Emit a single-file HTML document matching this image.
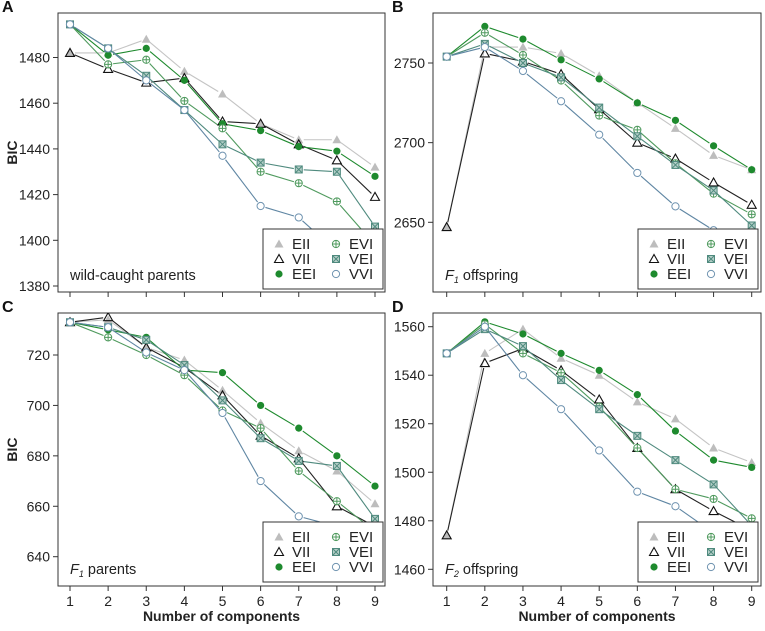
<!DOCTYPE html>
<html><head><meta charset="utf-8"><style>
body{margin:0;background:#fff;}
svg{font-family:"Liberation Sans",Arial,sans-serif;}
</style></head><body>
<svg id="chart" width="765" height="626" viewBox="0 0 765 626" xmlns="http://www.w3.org/2000/svg"></svg>
<script>
const components = [1,2,3,4,5,6,7,8,9];
const models = ["EII","VII","EEI","EVI","VEI","VVI"];
const aEII = [1482,1482,1488,1474,1464,1451,1444,1444,1432];
const aVII = [1482,1475,1469,1471,1452,1451,1442,1435,1419];
const aEEI = [1494.5,1481,1484,1470,1451,1448,1441,1439,1428];
const aEVI = [1494.5,1477,1479,1461,1449,1430,1425,1417,1398];
const aVEI = [1494.5,1484,1472,1457,1442,1434,1431,1430,1406];
const aVVI = [1494.5,1484,1470,1457,1437,1415,1410,1395,1385];
const bEII = [2647,2760,2760,2756,2742,2725,2709,2692,2683];
const bVII = [2647,2756,2751,2743,2721,2700,2690,2675,2661];
const bEEI = [2754,2773,2765,2752,2740,2725,2714,2698,2683];
const bEVI = [2754,2769,2755,2739,2717,2708,2687,2668,2655];
const bVEI = [2754,2762,2750,2741,2722,2704,2686,2670,2648];
const bVVI = [2754,2760,2745,2726,2705,2681,2660,2645,2630];
const cEII = [733,734,723,718,706,693,682,674,661];
const cVII = [733,735,723,715,704,688,679,660,652];
const cEEI = [733,730,727,714,713,700,691,680,668];
const cEVI = [733,727,720,712,698,691,674,662,650];
const cVEI = [733,731,726,716,702,687,678,676,655];
const cVVI = [733,731,721,714,697,670,656,652,645];
const dEII = [1474,1549,1559,1547,1540,1529,1522,1510,1504];
const dVII = [1474,1545,1551,1542,1530,1510,1493,1484,1476];
const dEEI = [1549,1562,1557,1549,1542,1532,1517,1505,1502];
const dEVI = [1549,1561,1549,1541,1527,1510,1493,1489,1481];
const dVEI = [1549,1559,1552,1538,1526,1515,1505,1495,1478];
const dVVI = [1549,1560,1540,1526,1509,1492,1486,1475,1465];
const aTicks = [1380,1400,1420,1440,1460,1480];
const bTicks = [2650,2700,2750];
const cTicks = [640,660,680,700,720];
const dTicks = [1460,1480,1500,1520,1540,1560];

const NS="http://www.w3.org/2000/svg";
const svg=document.getElementById('chart');
function mk(tag,attrs,parent){const e=document.createElementNS(NS,tag);for(const k in attrs)e.setAttribute(k,attrs[k]);(parent||svg).appendChild(e);return e;}
const style={
 EII:{line:"#c4c4c4"},VII:{line:"#222"},EEI:{line:"#1e8a2e"},
 EVI:{line:"#4f9a5e"},VEI:{line:"#4f8a7e"},VVI:{line:"#5f86a3"}};
function marker(m,x,y,g){
 let e;
 if(m==="EII"){e=mk('polygon',{points:`${x},${y-4.5} ${x-4.5},${y+3.5} ${x+4.5},${y+3.5}`,fill:"#bdbdbd"},g);}
 else if(m==="VII"){e=mk('polygon',{points:`${x},${y-4.5} ${x-4.5},${y+3.5} ${x+4.5},${y+3.5}`,fill:"none",stroke:"#111","stroke-width":1.1},g);}
 else if(m==="EEI"){e=mk('circle',{cx:x,cy:y,r:3.6,fill:"#1e8a2e"},g);}
 else if(m==="EVI"){e=mk('g',{},g);mk('circle',{cx:x,cy:y,r:3.6,fill:"#fff",stroke:"#4f9a5e","stroke-width":1},e);mk('path',{d:`M${x-3.6} ${y}H${x+3.6}M${x} ${y-3.6}V${y+3.6}`,stroke:"#4f9a5e","stroke-width":1},e);}
 else if(m==="VEI"){e=mk('g',{},g);mk('rect',{x:x-3.5,y:y-3.5,width:7,height:7,fill:"#b5cfc8",stroke:"#4f8a7e","stroke-width":1},e);mk('path',{d:`M${x-3.5} ${y-3.5}L${x+3.5} ${y+3.5}M${x+3.5} ${y-3.5}L${x-3.5} ${y+3.5}`,stroke:"#4f8a7e","stroke-width":1},e);}
 else {e=mk('circle',{cx:x,cy:y,r:3.6,fill:"#fff",stroke:"#6f93b0","stroke-width":1},g);}
 
 
}
function panel(p){
 const g=mk('g',{});
 
 
 const xs=v=>p.x1+(v-1)*(p.x9-p.x1)/8;
 const ys=v=>p.ya+(v-p.va)*(p.yb-p.ya)/(p.vb-p.va);
 const clipId='clip'+p.letter;
 const cp=mk('clipPath',{id:clipId},g);mk('rect',{x:p.bx,y:p.by,width:p.bw,height:p.bh},cp);
 const frame=mk('rect',{x:p.bx,y:p.by,width:p.bw,height:p.bh,fill:"none",stroke:"#333","stroke-width":1},g);
 
 const lt=mk('text',{x:p.letx,y:p.by-1,"font-size":16,"font-weight":"bold",fill:"#111"},g);lt.textContent=p.letter;
 
 const ax=mk('g',{},g);
 p.ticks.forEach(t=>{const y=ys(t);mk('line',{x1:p.bx-5,x2:p.bx,y1:y,y2:y,stroke:"#333"},ax);
  const tx=mk('text',{x:p.bx-8,y:y+5,"font-size":14,"text-anchor":"end",fill:"#222"},ax);tx.textContent=t;
  });
 const xa=mk('g',{},g);
 components.forEach(c=>{const x=xs(c);mk('line',{x1:x,x2:x,y1:p.by+p.bh,y2:p.by+p.bh+5,stroke:"#333"},xa);
  if(p.xlabels){const tx=mk('text',{x:x,y:p.by+p.bh+20,"font-size":14,"text-anchor":"middle",fill:"#222"},xa);tx.textContent=c;
  }});
 if(p.xlabels){const t=mk('text',{x:(p.bx+p.bw/2),y:p.by+p.bh+35,"font-size":14,"font-weight":"bold","text-anchor":"middle",fill:"#222"},g);t.textContent="Number of components";
  }
 if(p.ylabel){const t=mk('text',{x:0,y:0,"font-size":14,"font-weight":"bold","text-anchor":"middle",fill:"#222",transform:`translate(17,${p.by+p.bh/2}) rotate(-90)`},g);t.textContent="BIC";
  }
 const plot=mk('g',{"clip-path":`url(#${clipId})`},g);
 models.forEach(m=>{const vals=p.data[m];const sg=mk('g',{},plot);
  
  for(let i=0;i<8;i++){const x0=xs(components[i]),y0=ys(vals[i]),x1=xs(components[i+1]),y1=ys(vals[i+1]);
   const dx=x1-x0,dy=y1-y0,L=Math.hypot(dx,dy);if(L<10)continue;const ux=dx/L*5,uy=dy/L*5;
   mk('line',{x1:x0+ux,y1:y0+uy,x2:x1-ux,y2:y1-uy,stroke:style[m].line,"stroke-width":1.1},sg);}
 });
 models.forEach(m=>{const vals=p.data[m];vals.forEach((v,i)=>marker(m,xs(components[i]),ys(v),plot));});
 const lg=mk('g',{},g);
 mk('rect',{x:p.lx,y:p.ly,width:120,height:60,fill:"#fff",stroke:"#333","stroke-width":1},lg);
 const order=[["EII",0,0],["VII",0,1],["EEI",0,2],["EVI",1,0],["VEI",1,1],["VVI",1,2]];
 order.forEach(([m,c,r])=>{const mx=p.lx+16+c*57,my=p.ly+15+r*15;marker(m,mx,my,lg);
  const t=mk('text',{x:mx+13,y:my+5,"font-size":15,fill:"#222"},lg);t.textContent=m;
  });
 const st=mk('text',{x:p.bx+12,y:p.by+p.bh-12,"font-size":14.5,fill:"#222"},g);
 st.innerHTML=p.sub;
}
panel({letter:"A",letx:2,bx:58,by:13,bw:327,bh:279,x1:70,x9:375,va:1480,ya:57.5,vb:1380,yb:286,ticks:aTicks,
 data:{EII:aEII,VII:aVII,EEI:aEEI,EVI:aEVI,VEI:aVEI,VVI:aVVI},lx:263,ly:229,sub:"wild-caught parents",ylabel:true,xlabels:false});
panel({letter:"B",letx:392,bx:433,by:13,bw:328,bh:279,x1:446.7,x9:751.7,va:2750,ya:63,vb:2650,yb:222.3,ticks:bTicks,
 data:{EII:bEII,VII:bVII,EEI:bEEI,EVI:bEVI,VEI:bVEI,VVI:bVVI},lx:638,ly:229,sub:'<tspan font-style="italic">F</tspan><tspan font-style="italic" font-size="9" dy="3">1</tspan><tspan dy="-3"> offspring</tspan>',ylabel:false,xlabels:false});
panel({letter:"C",letx:2,bx:58,by:313,bw:327,bh:273,x1:70,x9:375,va:720,ya:355,vb:640,yb:556.7,ticks:cTicks,
 data:{EII:cEII,VII:cVII,EEI:cEEI,EVI:cEVI,VEI:cVEI,VVI:cVVI},lx:263,ly:522,sub:'<tspan font-style="italic">F</tspan><tspan font-style="italic" font-size="9" dy="3">1</tspan><tspan dy="-3"> parents</tspan>',ylabel:true,xlabels:true});
panel({letter:"D",letx:392,bx:433,by:313,bw:328,bh:273,x1:446.7,x9:751.7,va:1560,ya:326.7,vb:1460,yb:569.3,ticks:dTicks,
 data:{EII:dEII,VII:dVII,EEI:dEEI,EVI:dEVI,VEI:dVEI,VVI:dVVI},lx:638,ly:522,sub:'<tspan font-style="italic">F</tspan><tspan font-style="italic" font-size="9" dy="3">2</tspan><tspan dy="-3"> offspring</tspan>',ylabel:false,xlabels:true});
</script>
</body></html>
